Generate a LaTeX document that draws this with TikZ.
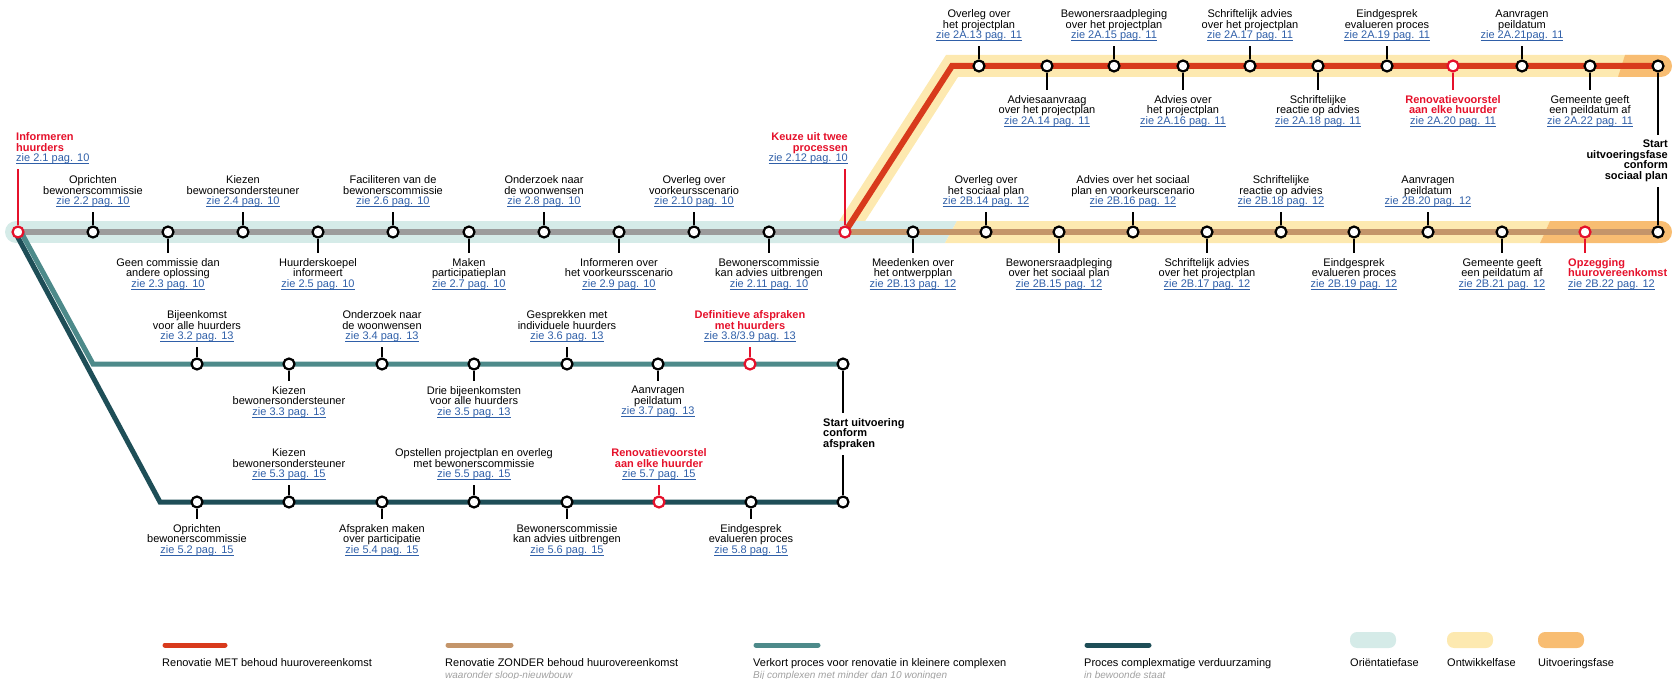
\documentclass[tikz,border=0pt]{standalone}
\usepackage{fontspec}
\setmainfont{Liberation Sans}
\usepackage{tikz}
\usetikzlibrary{calc}

\definecolor{roodlijn}{HTML}{D83A1C}
\definecolor{bruinlijn}{HTML}{C4956A}
\definecolor{teallicht}{HTML}{4D8A8A}
\definecolor{tealdonker}{HTML}{1E4E57}
\definecolor{grijslijn}{HTML}{9C9C9C}
\definecolor{orientatie}{HTML}{D5EBE8}
\definecolor{ontwikkel}{HTML}{FDE9B0}
\definecolor{uitvoering}{HTML}{F8BD72}
\definecolor{roodtekst}{HTML}{E5112B}
\definecolor{linkblauw}{HTML}{2F5FA8}
\definecolor{grijstekst}{HTML}{A0A0A0}

\pgfdeclarelayer{banden}
\pgfdeclarelayer{lijnen}
\pgfsetlayers{banden,lijnen,main}

\lineskiplimit=-20pt
\newcommand{\labelfont}{\fontsize{11}{10.5}\selectfont}
\newcommand{\zie}[1]{{\mdseries\color{linkblauw}\setbox0\hbox{zie #1}\rlap{\rule[-2pt]{\wd0}{0.6pt}}\box0}}
\newcommand{\afstB}{25pt}
\newcommand{\afstO}{26pt}
\newcommand{\halteboven}[4][zwart]{%
  \node[halte, #1, fill=white] (#2) at (#3) {};
  \node[lbl, #1, anchor=south] (#2l) at ([yshift=\afstB]#2.center) {#4};
  \draw[stam, #1] (#2) -- (#2l);}
\newcommand{\halteonder}[4][zwart]{%
  \node[halte, #1, fill=white] (#2) at (#3) {};
  \node[lbl, #1, anchor=north] (#2l) at ([yshift=-\afstO]#2.center) {#4};
  \draw[stam, #1] (#2) -- (#2l);}

\begin{document}
\begin{tikzpicture}[x=1pt, y=-1pt,
    halte/.style={circle, draw, fill=white, line width=2.2pt, minimum size=11pt, inner sep=0pt},
    lbl/.style={font=\labelfont, align=center, inner sep=0pt},
    stam/.style={line width=1.4pt, shorten >=5pt},
    zwart/.style={},
    rood/.style={color=roodtekst, font=\labelfont\bfseries},
    lijn/.style={line width=6pt, line join=miter},
    band/.style={line width=22pt},
    legtekst/.style={font=\fontsize{11}{11}\selectfont, anchor=base west, inner sep=0pt},
    legsub/.style={font=\fontsize{10}{11}\selectfont\itshape, text=grijstekst, anchor=base west, inner sep=0pt},
    leglijn/.style={line width=5pt, line cap=round}]
    \useasboundingbox (0,0) rectangle (1675,679);

    \node[halte, rood, fill=white] (s0) at (18,232) {};
    \node[lbl, rood, align=left, anchor=south west] (s0l) at (16,164) {Informeren\\huurders\\\zie{2.1 pag. 10}};
    \draw[stam, rood] (s0) -- (s0 |- s0l.south);
    \halteboven{s1}{93,232}{Oprichten\\bewonerscommissie\\\zie{2.2 pag. 10}}
    \halteonder{s2}{168,232}{Geen commissie dan\\andere oplossing\\\zie{2.3 pag. 10}}
    \halteboven{s3}{243,232}{Kiezen\\bewonersondersteuner\\\zie{2.4 pag. 10}}
    \halteonder{s4}{318,232}{Huurderskoepel\\informeert\\\zie{2.5 pag. 10}}
    \halteboven{s5}{393,232}{Faciliteren van de\\bewonerscommissie\\\zie{2.6 pag. 10}}
    \halteonder{s6}{469,232}{Maken\\participatieplan\\\zie{2.7 pag. 10}}
    \halteboven{s7}{544,232}{Onderzoek naar\\de woonwensen\\\zie{2.8 pag. 10}}
    \halteonder{s8}{619,232}{Informeren over\\het voorkeursscenario\\\zie{2.9 pag. 10}}
    \halteboven{s9}{694,232}{Overleg over\\voorkeursscenario\\\zie{2.10 pag. 10}}
    \halteonder{s10}{769,232}{Bewonerscommissie\\kan advies uitbrengen\\\zie{2.11 pag. 10}}
    \node[halte, rood, fill=white] (s11) at (845,232) {};
    \node[lbl, rood, align=right, anchor=south east] (s11l) at (848,164) {Keuze uit twee\\processen\\\zie{2.12 pag. 10}};
    \draw[stam, rood] (s11) -- (s11 |- s11l.south);

    \halteonder{b1}{913,232}{Meedenken over\\het ontwerpplan\\\zie{2B.13 pag. 12}}
    \halteboven{b2}{986,232}{Overleg over\\het sociaal plan\\\zie{2B.14 pag. 12}}
    \halteonder{b3}{1059,232}{Bewonersraadpleging\\over het sociaal plan\\\zie{2B.15 pag. 12}}
    \halteboven{b4}{1133,232}{Advies over het sociaal\\plan en voorkeurscenario\\\zie{2B.16 pag. 12}}
    \halteonder{b5}{1207,232}{Schriftelijk advies\\over het projectplan\\\zie{2B.17 pag. 12}}
    \halteboven{b6}{1281,232}{Schriftelijke\\reactie op advies\\\zie{2B.18 pag. 12}}
    \halteonder{b7}{1354,232}{Eindgesprek\\evalueren proces\\\zie{2B.19 pag. 12}}
    \halteboven{b8}{1428,232}{Aanvragen\\peildatum\\\zie{2B.20 pag. 12}}
    \halteonder{b9}{1502,232}{Gemeente geeft\\een peildatum af\\\zie{2B.21 pag. 12}}
    \node[halte, rood, fill=white] (b10) at (1585,232) {};
    \node[lbl, rood, align=left, anchor=north west] (b10l) at (1568,258) {Opzegging\\huurovereenkomst\\\zie{2B.22 pag. 12}};
    \draw[stam, rood] (b10) -- (b10 |- b10l.north);
    \node[halte] (b11) at (1658,232) {};

    \renewcommand{\afstO}{29pt}
    \halteboven{a1}{979,66}{Overleg over\\het projectplan\\\zie{2A.13 pag. 11}}
    \halteonder{a2}{1047,66}{Adviesaanvraag\\over het projectplan\\\zie{2A.14 pag. 11}}
    \halteboven{a3}{1114,66}{Bewonersraadpleging\\over het projectplan\\\zie{2A.15 pag. 11}}
    \halteonder{a4}{1183,66}{Advies over\\het projectplan\\\zie{2A.16 pag. 11}}
    \halteboven{a5}{1250,66}{Schriftelijk advies\\over het projectplan\\\zie{2A.17 pag. 11}}
    \halteonder{a6}{1318,66}{Schriftelijke\\reactie op advies\\\zie{2A.18 pag. 11}}
    \halteboven{a7}{1387,66}{Eindgesprek\\evalueren proces\\\zie{2A.19 pag. 11}}
    \halteonder[rood]{a8}{1453,66}{Renovatievoorstel\\aan elke huurder\\\zie{2A.20 pag. 11}}
    \halteboven{a9}{1522,66}{Aanvragen\\peildatum\\\zie{2A.21pag. 11}}
    \halteonder{a10}{1590,66}{Gemeente geeft\\een peildatum af\\\zie{2A.22 pag. 11}}
    \node[halte] (a11) at (1658,66) {};

    \node[lbl, font=\labelfont\bfseries, align=right, anchor=north east] (einds) at (1668,140) {Start\\uitvoeringsfase\\conform\\sociaal plan};
    \draw[stam] (a11) -- (a11 |- einds.north);
    \draw[stam] (b11) -- (b11 |- einds.south);

    \renewcommand{\afstB}{22pt}
    \renewcommand{\afstO}{22pt}
    \halteboven{l1}{197,364}{Bijeenkomst\\voor alle huurders\\\zie{3.2 pag. 13}}
    \halteonder{l2}{289,364}{Kiezen\\bewonersondersteuner\\\zie{3.3 pag. 13}}
    \halteboven{l3}{382,364}{Onderzoek naar\\de woonwensen\\\zie{3.4 pag. 13}}
    \halteonder{l4}{474,364}{Drie bijeenkomsten\\voor alle huurders\\\zie{3.5 pag. 13}}
    \halteboven{l5}{567,364}{Gesprekken met\\individuele huurders\\\zie{3.6 pag. 13}}
    \halteonder{l6}{658,364}{Aanvragen\\peildatum\\\zie{3.7 pag. 13}}
    \halteboven[rood]{l7}{750,364}{Definitieve afspraken\\met huurders\\\zie{3.8/3.9 pag. 13}}
    \node[halte] (l8) at (843,364) {};

    \halteonder{d1}{197,502}{Oprichten\\bewonerscommissie\\\zie{5.2 pag. 15}}
    \halteboven{d2}{289,502}{Kiezen\\bewonersondersteuner\\\zie{5.3 pag. 15}}
    \halteonder{d3}{382,502}{Afspraken maken\\over participatie\\\zie{5.4 pag. 15}}
    \halteboven{d4}{474,502}{Opstellen projectplan en overleg\\met bewonerscommissie\\\zie{5.5 pag. 15}}
    \halteonder{d5}{567,502}{Bewonerscommissie\\kan advies uitbrengen\\\zie{5.6 pag. 15}}
    \halteboven[rood]{d6}{659,502}{Renovatievoorstel\\aan elke huurder\\\zie{5.7 pag. 15}}
    \halteonder{d7}{751,502}{Eindgesprek\\evalueren proces\\\zie{5.8 pag. 15}}
    \node[halte] (d8) at (843,502) {};

    \node[lbl, font=\labelfont\bfseries, align=left, anchor=north west] (eindk) at (823,418) {Start uitvoering\\conform\\afspraken};
    \draw[stam] (l8) -- (l8 |- eindk.north);
    \draw[stam] (d8) -- (d8 |- eindk.south);

    \begin{pgfonlayer}{lijnen}
        \coordinate (rk) at (952,66);
        \coordinate (lk) at (93,364);
        \coordinate (dk) at (160,502);
        \draw[lijn, grijslijn] (s0.center) -- (s11.center);
        \draw[lijn, bruinlijn] (s11.center) -- (b11.center);
        \draw[lijn, roodlijn] (s11.center) -- (rk) -- (a11.center);
        \draw[lijn, tealdonker, line width=5pt] ([xshift=-3pt]s0.center) -- (dk) -- (d8.center);
        \draw[lijn, teallicht, line width=5pt] ([xshift=3pt]s0.center) -- (lk) -- (l8.center);
    \end{pgfonlayer}

    \begin{pgfonlayer}{banden}
        \draw[band, ontwikkel, line join=miter] (s11.center) -- (rk) -- (1640,66);
        \fill[uitvoering] (1625,55) -- (1658,55) -- (1658,77) -- (1618,77) -- cycle;
        \draw[band, uitvoering, line cap=round] (1650,66) -- (1661,66);
        \draw[band, orientatie, line cap=round] (16,232) -- (700,232);
        \fill[orientatie] (690,221) -- (957,221) -- (945,243) -- (690,243) -- cycle;
        \fill[ontwikkel] (957,221) -- (1550,221) -- (1540,243) -- (945,243) -- cycle;
        \fill[uitvoering] (1550,221) -- (1658,221) -- (1658,243) -- (1540,243) -- cycle;
        \draw[band, uitvoering, line cap=round] (1650,232) -- (1661,232);
    \end{pgfonlayer}

    \draw[leglijn, roodlijn] (165,645) -- (225,645);
    \node[legtekst] (leg1) at (162,666) {Renovatie MET behoud huurovereenkomst};
    \draw[leglijn, bruinlijn] (448,645) -- (511,645);
    \node[legtekst] (leg2) at (445,666) {Renovatie ZONDER behoud huurovereenkomst};
    \node[legsub] (leg2s) at (445,678) {waaronder sloop-nieuwbouw};
    \draw[leglijn, teallicht] (756,645) -- (818,645);
    \node[legtekst] (leg3) at (753,666) {Verkort proces voor renovatie in kleinere complexen};
    \node[legsub] (leg3s) at (753,678) {Bij complexen met minder dan 10 woningen};
    \draw[leglijn, tealdonker] (1087,645) -- (1149,645);
    \node[legtekst] (leg4) at (1084,666) {Proces complexmatige verduurzaming};
    \node[legsub] (leg4s) at (1084,678) {in bewoonde staat};
    \fill[orientatie, rounded corners=7pt] (1350,632) rectangle (1396,648);
    \node[legtekst] (leg5) at (1350,666) {Oriëntatiefase};
    \fill[ontwikkel, rounded corners=7pt] (1447,632) rectangle (1493,648);
    \node[legtekst] (leg6) at (1447,666) {Ontwikkelfase};
    \fill[uitvoering, rounded corners=7pt] (1538,632) rectangle (1584,648);
    \node[legtekst] (leg7) at (1538,666) {Uitvoeringsfase};
\end{tikzpicture}
\end{document}
